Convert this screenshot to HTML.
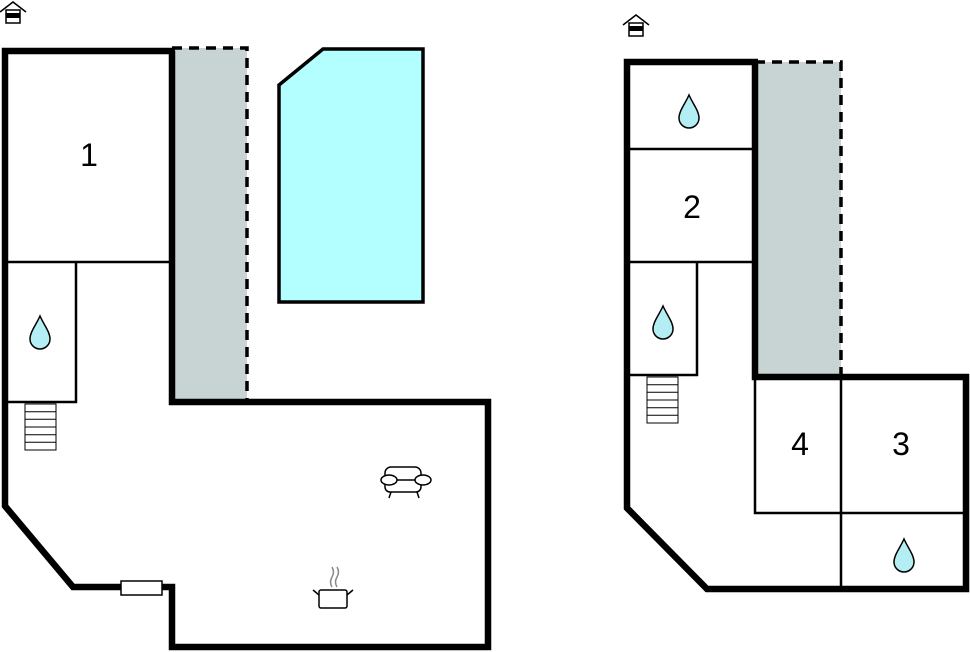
<!DOCTYPE html>
<html><head><meta charset="utf-8"><style>
html,body{margin:0;padding:0;background:#fff;width:970px;height:652px;overflow:hidden}
svg{display:block}
text{font-family:"Liberation Sans",sans-serif;font-size:32px;fill:#000;text-anchor:middle}
</style></head><body>
<svg width="970" height="652" viewBox="0 0 970 652">
<defs>
<g id="drop"><path d="M0,-17 C-4,-8 -10,-1 -10,6 A10,10 0 0 0 10,6 C10,-1 4,-8 0,-17Z" fill="#b3eef5" stroke="#000" stroke-width="1.5"/></g>
<g id="house"><path d="M-13,0 L0,-10 L13,0" fill="none" stroke="#000" stroke-width="1.5"/><rect x="-7" y="-2" width="14" height="13" fill="#fff" stroke="#000" stroke-width="1.5"/><rect x="-7" y="1" width="14" height="5" fill="#000"/></g>
<g id="stairs"><rect x="0" y="0" width="31" height="46" fill="#fff" stroke="#000" stroke-width="1"/><path d="M0,7.7H31M0,15.3H31M0,23H31M0,30.7H31M0,38.3H31" stroke="#000" stroke-width="1"/></g>
</defs>

<!-- LEFT PLAN -->
<use href="#house" x="13" y="12"/>
<rect x="175" y="48" width="72" height="354" fill="#c8d4d3"/>
<path d="M172,48 H247 V402" fill="none" stroke="#000" stroke-width="3.5" stroke-dasharray="10,7"/>
<polygon points="279,85 323,49 423,49 423,302 279,302" fill="#b3ffff" stroke="#000" stroke-width="3.5"/>
<path d="M5,262 H172 M76,262 V402 H5" fill="none" stroke="#000" stroke-width="2.5"/>
<path d="M172,51 V402 H488 V647 H172 V587 H73 L5,506 V51 H175" fill="none" stroke="#000" stroke-width="6.5"/>
<rect x="121" y="581" width="41" height="14" fill="#fff" stroke="#000" stroke-width="1.5"/>
<text x="89" y="166">1</text>
<use href="#drop" x="40" y="333"/>
<use href="#stairs" x="25" y="404"/>
<!-- sofa -->
<g fill="#fff" stroke="#000" stroke-width="1.5">
<rect x="385" y="467" width="36" height="14" rx="6"/>
<rect x="385" y="480" width="36" height="12" rx="5"/>
<ellipse cx="389" cy="480" rx="8" ry="5"/>
<ellipse cx="423" cy="480" rx="8" ry="5"/>
<path d="M391,492 L389,498 M417,492 L419,498" fill="none"/>
</g>
<!-- pot -->
<g fill="none" stroke="#000" stroke-width="1.5">
<rect x="319" y="590" width="28" height="18" rx="2" fill="#fff"/>
<path d="M319,595 L313,590 M347,595 L353,590"/>
<path d="M332,587 q-3,-5 0,-10 q3,-5 0,-10 M337,587 q-3,-5 0,-10 q3,-5 0,-10" stroke="#888"/>
</g>

<!-- RIGHT PLAN -->
<use href="#house" x="636" y="25"/>
<rect x="757" y="62" width="84" height="313" fill="#c8d4d3"/>
<path d="M755,62 H841 V377" fill="none" stroke="#000" stroke-width="3.5" stroke-dasharray="10,7"/>
<path d="M627,149 H755 M627,262 H755 M697,262 V375 H627 M755,377 V513 H966 M841,377 V590" fill="none" stroke="#000" stroke-width="2.5"/>
<path d="M755,62 V377 H966 V589 H707 L627,508 V62 H758" fill="none" stroke="#000" stroke-width="6.5"/>
<use href="#stairs" x="647" y="377"/>
<text x="692" y="218">2</text>
<text x="800" y="455">4</text>
<text x="901" y="455">3</text>
<use href="#drop" x="689" y="112"/>
<use href="#drop" x="663" y="323"/>
<use href="#drop" x="904" y="556"/>
</svg>
</body></html>
